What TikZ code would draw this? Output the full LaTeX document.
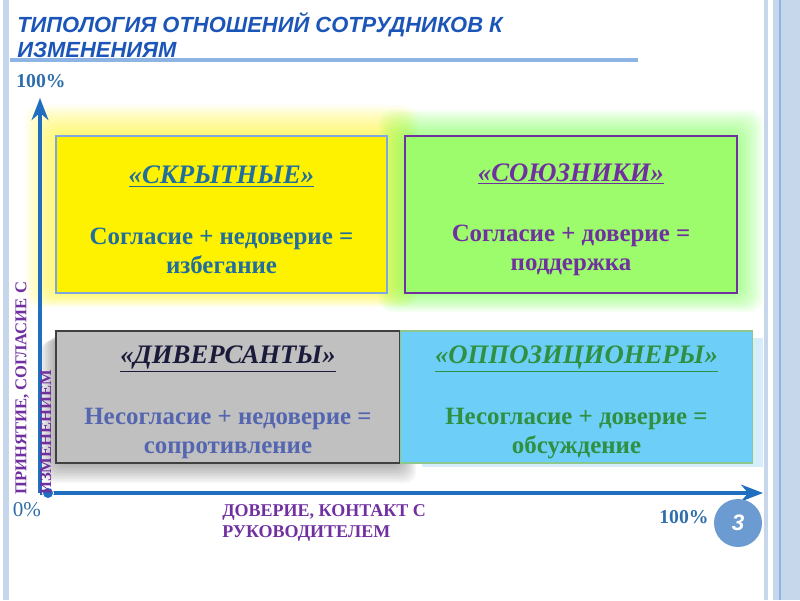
\documentclass[tikz,border=0pt]{standalone}
\usepackage{fontspec}
\setmainfont{Liberation Serif}
\newfontfamily\headfont{Liberation Sans}
\usetikzlibrary{arrows.meta}
\definecolor{headblue}{HTML}{1C55B8}
\definecolor{ruleblue}{HTML}{8EB4E3}
\definecolor{framebl}{HTML}{C6D6EB}
\definecolor{axisblue}{HTML}{1F6EBF}
\definecolor{pctblue}{HTML}{2F6EAA}
\definecolor{labpurple}{HTML}{7030A0}
\definecolor{skrtext}{HTML}{1F6E9E}
\definecolor{skrline}{HTML}{7EA6E0}
\definecolor{soyfill}{HTML}{9CFC6C}
\definecolor{divfill}{HTML}{C0C0C0}
\definecolor{divtitle}{HTML}{1A1A3A}
\definecolor{divtext}{HTML}{5566B0}
\definecolor{oppfill}{HTML}{6DCFF7}
\definecolor{oppback}{HTML}{D6EEFB}
\definecolor{oppline}{HTML}{8CC88C}
\definecolor{opptext}{HTML}{2E9040}
\definecolor{pagenum}{HTML}{6B9BD1}
\tikzset{quad/.style = {draw, line width=0.9pt, align=center, inner sep=0pt,
  font=\fontsize{17.7}{20.5}\selectfont\bfseries}}
\tikzset{axis/.style = {draw=axisblue, line width=2.2pt, -{Stealth[length=0.55cm, width=0.42cm]}}}
\tikzset{axlabel/.style = {text=labpurple, align=left, inner sep=0pt}}
\tikzset{pct/.style = {text=pctblue, inner sep=0pt, font=\fontsize{14}{16}\selectfont}}
\newcommand{\qtitle}[2][.]{\rule{0pt}{20pt}{\color{#1}\fontsize{19}{20}\selectfont\itshape\underline{#2}}\\[22.5pt]}

\begin{document}
\begin{tikzpicture}[x=0.025cm, y=-0.025cm]
        \useasboundingbox (0,0) rectangle (800,600);
        \fill[framebl] (3,0) rectangle (9,600);
        \fill[framebl] (764,0) rectangle (768,600);
        \fill[framebl] (773,0) rectangle (800,600);
        \draw[ruleblue, line width=1pt] (780,0) -- (780,600);

        \node[anchor=west, text=headblue, align=left, inner sep=0pt,
          font=\headfont\bfseries\itshape\fontsize{15.6}{17.8}\selectfont] (title) at (17,35)
          {ТИПОЛОГИЯ ОТНОШЕНИЙ СОТРУДНИКОВ К\\ИЗМЕНЕНИЯМ};
        \draw[ruleblue, line width=2.5pt] (10,60) -- (638,60);

        \foreach \g in {1,...,14}
          \fill[yellow, opacity=0.05, rounded corners=10pt] (56-2.2*\g,136-2.2*\g) rectangle (387+2.2*\g,293+\g);
        \foreach \g in {1,...,12}
          \fill[green!70!lime, opacity=0.045, rounded corners=10pt] (405-2.2*\g,136-2.2*\g) rectangle (737+2.2*\g,293+1.6*\g);
        \foreach \g in {1,...,10}
          \fill[black, opacity=0.035, rounded corners=8pt] (56-1.6*\g,331+\g) rectangle (400+1.6*\g,463+2*\g);
        \fill[oppback] (422,338) rectangle (763,467);

        \node[quad, fill=yellow, draw=skrline, text=skrtext,
          minimum width=8.275cm, minimum height=3.925cm] (skr) at (221.5,214.5)
          {\qtitle{«СКРЫТНЫЕ»}Согласие + недоверие =\\избегание};
        \node[quad, fill=soyfill, draw=labpurple, text=labpurple,
          minimum width=8.3cm, minimum height=3.925cm] (soyuz) at (571,214.5)
          {\qtitle{«СОЮЗНИКИ»}Согласие + доверие =\\поддержка};
        \node[quad, fill=divfill, draw=black!75, text=divtext,
          minimum width=8.6cm, minimum height=3.3cm] (divers) at (228,397)
          {\qtitle[divtitle]{«ДИВЕРСАНТЫ»}Несогласие + недоверие =\\сопротивление};
        \node[quad, fill=oppfill, draw=oppline, text=opptext,
          minimum width=8.8cm, minimum height=3.3cm] (oppoz) at (576.5,397)
          {\qtitle{«ОППОЗИЦИОНЕРЫ»}Несогласие + доверие =\\обсуждение};

        \coordinate (O) at (40,493);
        \coordinate (ytip) at (40,98);
        \coordinate (xtip) at (763,493);
        \draw[axis] (O) -- (ytip);
        \draw[axis] (O) -- (xtip);
        \node[circle, fill=axisblue, draw=white, line width=0.6pt, minimum size=0.28cm, inner sep=0pt] (orig) at (48,493) {};

        \node[pct, font=\fontsize{14}{16}\selectfont\bfseries] (top100) at (41,81) {100\%};
        \node[pct, font=\fontsize{15}{16}\selectfont] (zero) at (27,510) {0\%};
        \node[pct, font=\fontsize{14}{16}\selectfont\bfseries] (right100) at (684,517) {100\%};
        \node[circle, fill=pagenum, minimum size=1.2cm, inner sep=0pt, text=white,
          font=\headfont\bfseries\itshape\fontsize{16}{16}\selectfont] (pg) at (738,523) {3};

        \node[axlabel, rotate=90, anchor=north west, font=\fontsize{11.8}{17.7}\selectfont\bfseries] (ylab) at (15,495)
          {ПРИНЯТИЕ, СОГЛАСИЕ С\\ИЗМЕНЕНИЕМ};
        \node[axlabel, anchor=north west, font=\fontsize{12.8}{15}\selectfont\bfseries] (xlab) at (222,504)
          {ДОВЕРИЕ, КОНТАКТ С\\РУКОВОДИТЕЛЕМ};
\end{tikzpicture}
\end{document}
